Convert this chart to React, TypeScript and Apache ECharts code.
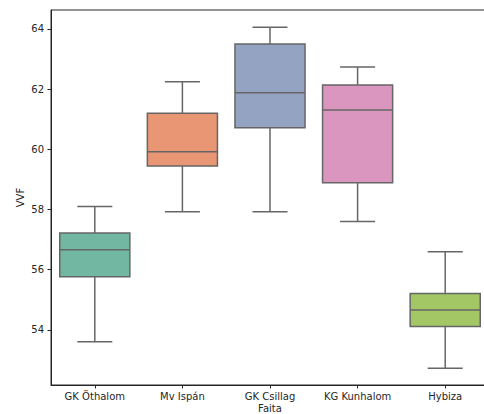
import React, { useEffect, useRef } from "react";
import * as echarts from "echarts";

const categories = ["GK Öthalom", "Mv Ispán", "GK Csillag", "KG Kunhalom", "Hybiza"];
// [low whisker, Q1, median, Q3, high whisker]
const lowWhisker = [53.61, 57.93, 57.93, 57.6, 52.73];
const q1 = [55.77, 59.45, 60.72, 58.89, 54.11];
const median = [56.66, 59.92, 61.88, 61.31, 54.66];
const q3 = [57.22, 61.2, 63.5, 62.14, 55.21];
const highWhisker = [58.1, 62.25, 64.06, 62.74, 56.6];
const boxColors = ["#71b7a1", "#e99675", "#95a3c3", "#db96c0", "#a2c764"];
const yTicks = [54, 56, 58, 60, 62, 64];

const LINE = "#666666";

export default function App() {
  const ref = useRef<HTMLDivElement>(null);
  useEffect(() => {
    if (!ref.current) return;
    const chart = echarts.init(ref.current, null, { renderer: "svg" });
    const data = categories.map((_, i) => [i, lowWhisker[i], q1[i], median[i], q3[i], highWhisker[i]]);
    const font = { fontFamily: "DejaVu Sans", fontSize: 10, color: "#262626" };
    chart.setOption({
      animation: false,
      grid: {
        left: 51,
        top: 10,
        width: 438,
        height: 375,
        show: true,
        borderColor: "#262626",
        borderWidth: 1,
        backgroundColor: "transparent",
        containLabel: false,
        outerBoundsMode: "none",
      },
      xAxis: {
        type: "category",
        data: categories,
        boundaryGap: true,
        name: "Faita",
        nameLocation: "middle",
        nameGap: 18,
        nameMoveOverlap: false,
        nameTextStyle: { ...font },
        axisLine: { show: true, lineStyle: { color: "#262626", width: 1 } },
        axisTick: { show: true, alignWithLabel: true, length: 3.5, lineStyle: { color: "#262626" } },
        axisLabel: { ...font, margin: 6, interval: 0 },
        splitLine: { show: false },
      },
      yAxis: {
        type: "value",
        min: 52.17,
        max: 64.63,
        name: "VVF",
        nameLocation: "middle",
        nameGap: 26,
        nameMoveOverlap: false,
        nameRotate: 90,
        nameTextStyle: { ...font },
        axisLine: { show: true, lineStyle: { color: "#262626", width: 1 } },
        axisTick: { show: true, length: 3.5, customValues: yTicks, lineStyle: { color: "#262626" } },
        axisLabel: { ...font, margin: 7, customValues: yTicks },
        splitLine: { show: false },
      },
      series: [
        {
          type: "custom",
          data,
          encode: { x: 0, y: [1, 2, 3, 4, 5] },
          renderItem: (params: any, api: any) => {
            const idx = api.value(0);
            const band = api.size([1, 0])[0];
            const bw = band * 0.8;
            const cw = band * 0.4;
            const pLow = api.coord([idx, api.value(1)]);
            const pQ1 = api.coord([idx, api.value(2)]);
            const pMed = api.coord([idx, api.value(3)]);
            const pQ3 = api.coord([idx, api.value(4)]);
            const pHigh = api.coord([idx, api.value(5)]);
            const x = pMed[0];
            const ls = { stroke: LINE, lineWidth: 1.5 };
            return {
              type: "group",
              children: [
                { type: "line", shape: { x1: x, y1: pQ1[1], x2: x, y2: pLow[1] }, style: ls },
                { type: "line", shape: { x1: x, y1: pQ3[1], x2: x, y2: pHigh[1] }, style: ls },
                { type: "line", shape: { x1: x - cw / 2, y1: pLow[1], x2: x + cw / 2, y2: pLow[1] }, style: ls },
                { type: "line", shape: { x1: x - cw / 2, y1: pHigh[1], x2: x + cw / 2, y2: pHigh[1] }, style: ls },
                {
                  type: "rect",
                  shape: { x: x - bw / 2, y: pQ3[1], width: bw, height: pQ1[1] - pQ3[1] },
                  style: { fill: boxColors[idx], stroke: LINE, lineWidth: 1.5 },
                },
                { type: "line", shape: { x1: x - bw / 2, y1: pMed[1], x2: x + bw / 2, y2: pMed[1] }, style: ls },
              ],
            };
          },
        },
      ],
    });
    return () => chart.dispose();
  }, []);
  return (
    <div
      ref={ref}
      style={{ position: "absolute", left: 0, top: 0, width: 484, height: 414, background: "#fff" }}
    />
  );
}
